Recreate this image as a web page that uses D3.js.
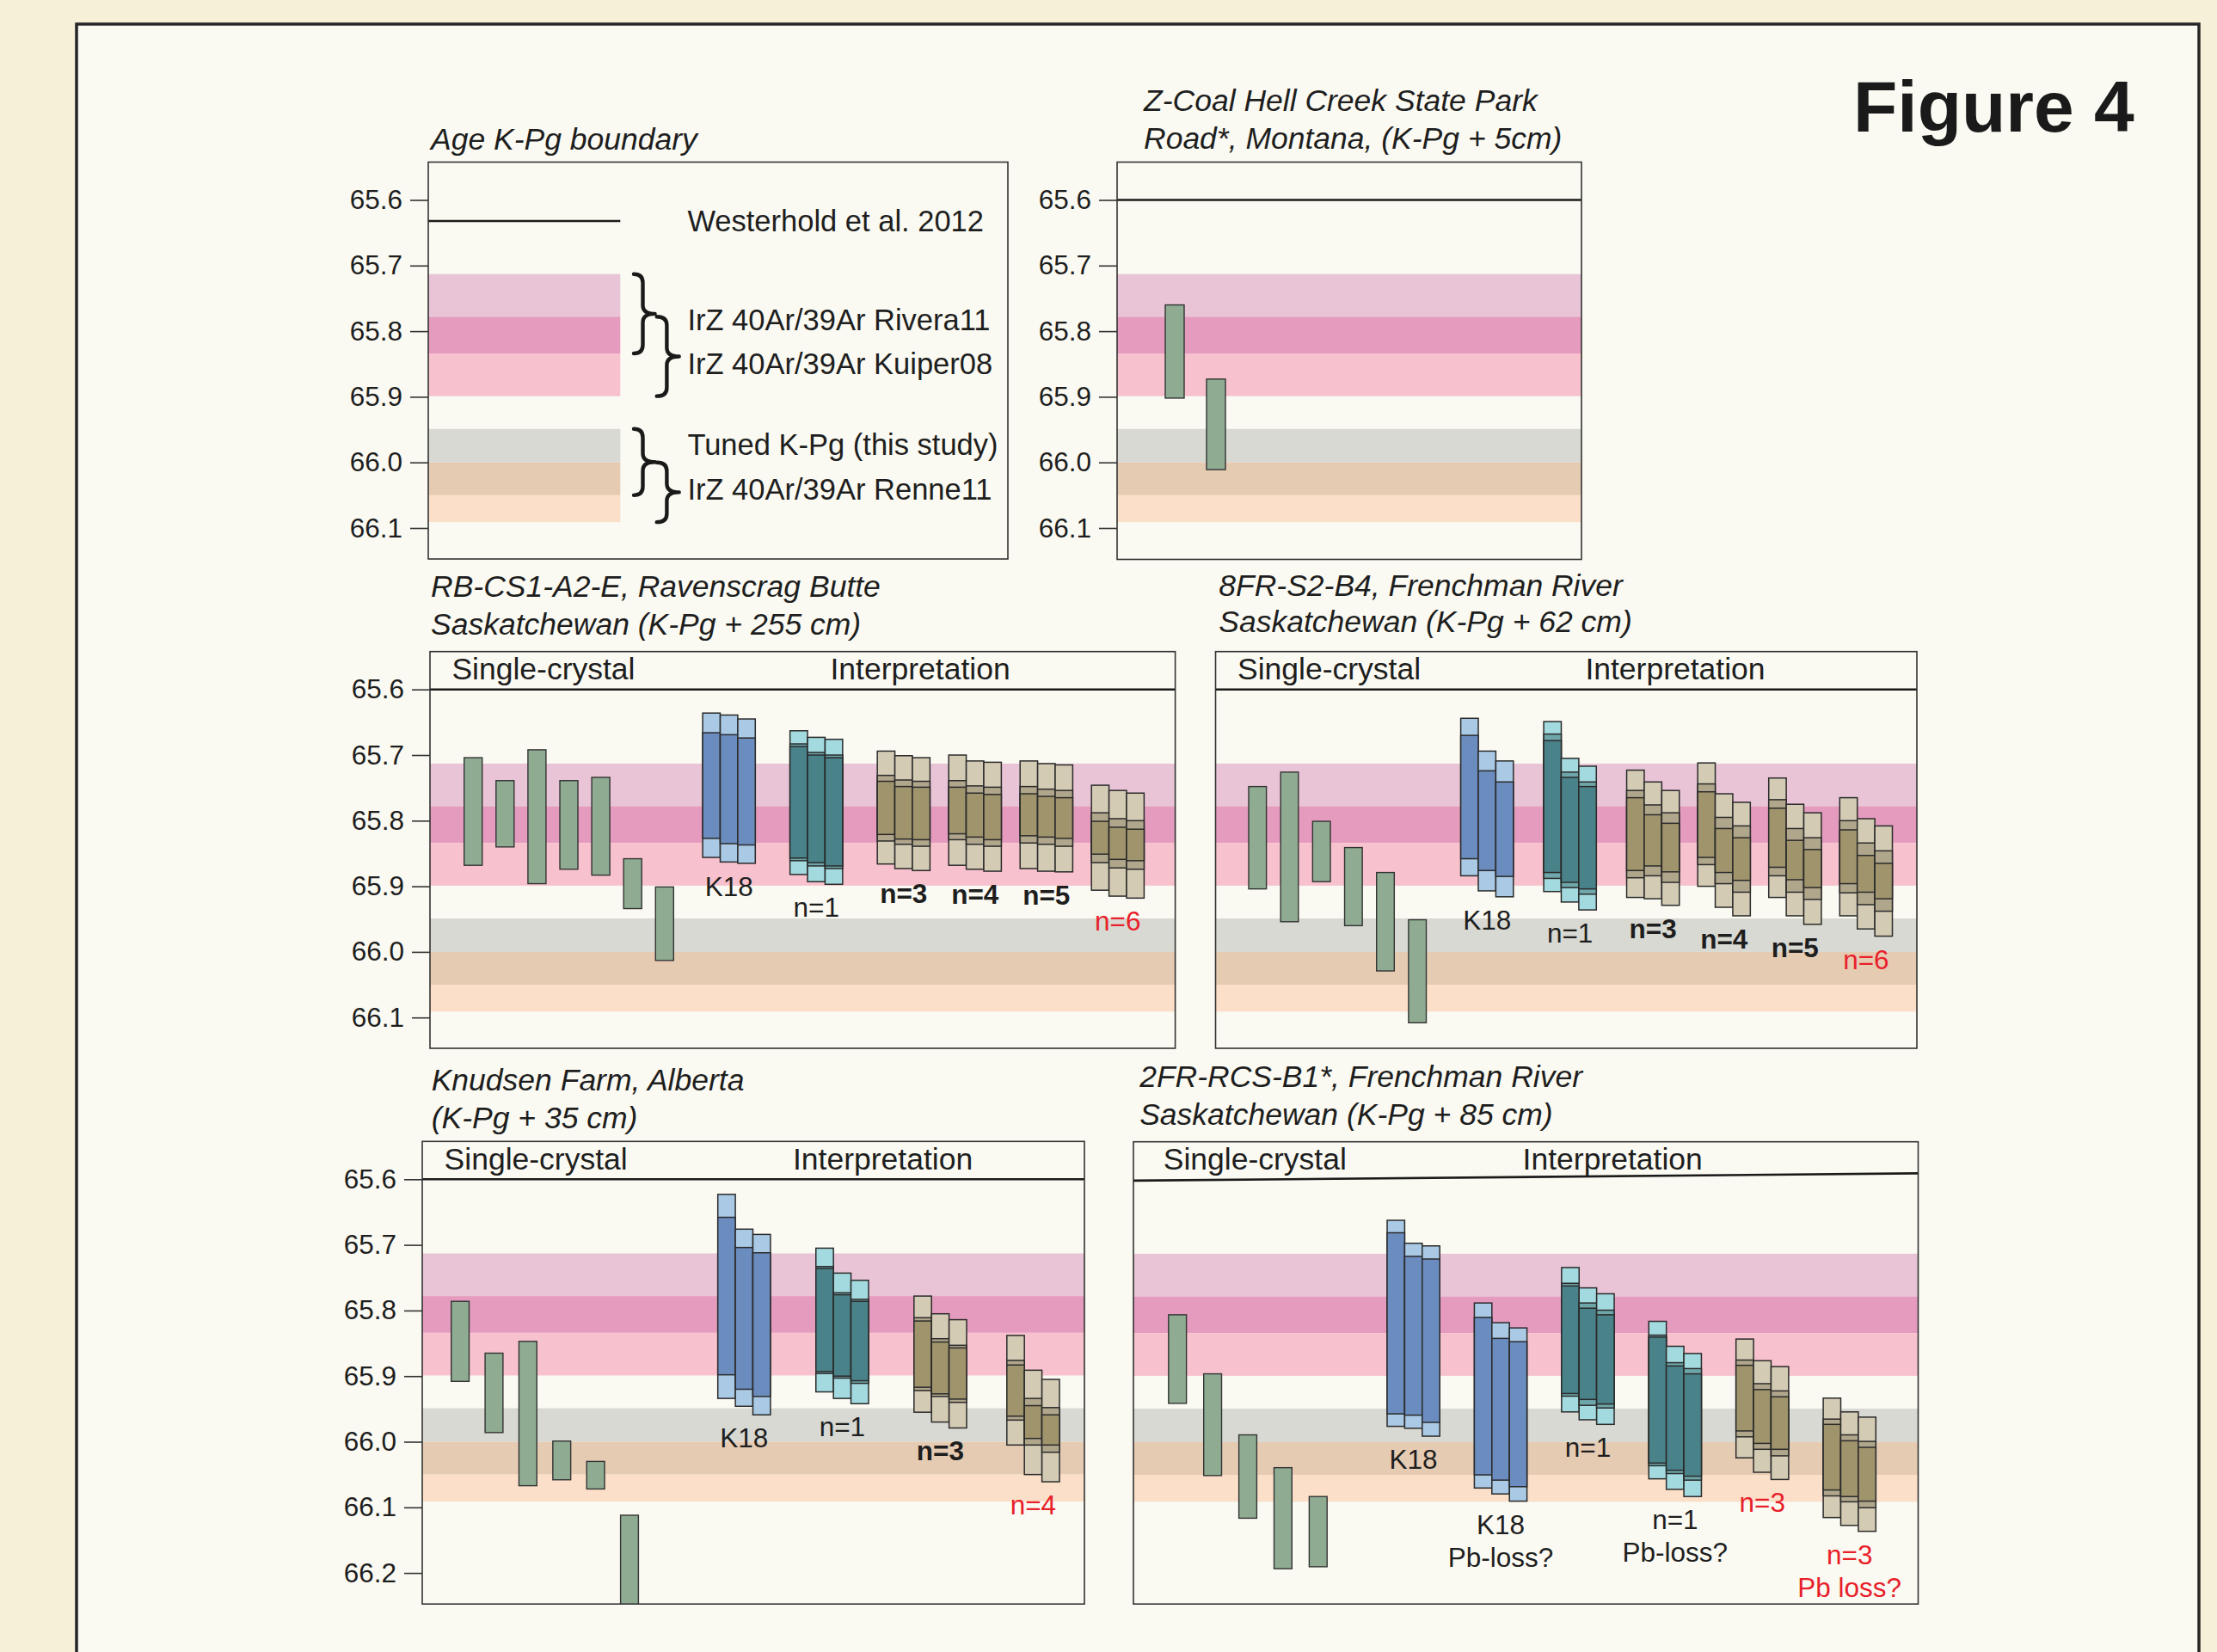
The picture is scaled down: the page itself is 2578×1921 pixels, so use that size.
<!DOCTYPE html>
<html>
<head>
<meta charset="utf-8">
<script src="https://cdn.jsdelivr.net/npm/d3@7"></script>
<style>
  html, body { margin: 0; padding: 0; background: #f7f0d8; }
  svg { display: block; font-family: "Liberation Sans", Arial, sans-serif; }
</style>
</head>
<body>
<svg id="fig" width="2578" height="1921"></svg>
<script>
// ---- data (ages in Ma, young at top) ----
const TICKS_STD = [65.6, 65.7, 65.8, 65.9, 66.0, 66.1];
const TICKS_EXT = [65.6, 65.7, 65.8, 65.9, 66.0, 66.1, 66.2];

const westerhold = { name: 'Westerhold et al. 2012', age: 65.632 };

// two overlapping pairs of reference bands
const ageBands = [
  { name: 'IrZ 40Ar/39Ar Rivera11', lo: 65.713, hi: 65.834 },
  { name: 'IrZ 40Ar/39Ar Kuiper08', lo: 65.778, hi: 65.899 },
  { name: 'Tuned K-Pg (this study)', lo: 65.949, hi: 66.050 },
  { name: 'IrZ 40Ar/39Ar Renne11', lo: 66.000, hi: 66.091 }
];

// single-crystal dates [young, old]
const zcoalCrystals = [[65.760, 65.902], [65.873, 66.011]];
const ravenscragCrystals = [[65.704, 65.868], [65.739, 65.840], [65.692, 65.896], [65.739, 65.874],
  [65.734, 65.883], [65.858, 65.934], [65.901, 66.013]];
const frenchman8Crystals = [[65.748, 65.904], [65.726, 65.954], [65.801, 65.893], [65.841, 65.960],
  [65.879, 66.029], [65.951, 66.108]];
const knudsenCrystals = [[65.786, 65.908], [65.865, 65.986], [65.847, 66.067], [65.999, 66.058],
  [66.030, 66.072], [66.112, 66.260]];
const frenchman2Crystals = [[65.806, 65.941], [65.896, 66.051], [65.989, 66.116], [66.039, 66.193],
  [66.083, 66.190]];

// interpretations: each has 3 bars; k18 bars = [outer, inner, inner, outer],
// other bars = [outer, mid, inner, inner, mid, outer]
const ravenscragGroups = [
  { kind: 'k18', label: ['K18'], status: 'ref', bars: [
    [65.636, 65.666, 65.827, 65.856], [65.639, 65.669, 65.835, 65.863], [65.645, 65.674, 65.837, 65.865]] },
  { kind: 'n1', label: ['n=1'], status: 'ref', bars: [
    [65.663, 65.683, 65.687, 65.857, 65.861, 65.882], [65.673, 65.696, 65.700, 65.864, 65.869, 65.893],
    [65.676, 65.700, 65.704, 65.869, 65.873, 65.897]] },
  { kind: 'nx', label: ['n=3'], status: 'candidate', bars: [
    [65.694, 65.731, 65.740, 65.821, 65.831, 65.866], [65.701, 65.738, 65.748, 65.828, 65.836, 65.873],
    [65.704, 65.740, 65.749, 65.829, 65.839, 65.876]] },
  { kind: 'nx', label: ['n=4'], status: 'candidate', bars: [
    [65.700, 65.739, 65.749, 65.820, 65.829, 65.868], [65.709, 65.747, 65.758, 65.825, 65.836, 65.874],
    [65.711, 65.749, 65.760, 65.829, 65.839, 65.877]] },
  { kind: 'nx', label: ['n=5'], status: 'candidate', bars: [
    [65.709, 65.748, 65.759, 65.823, 65.834, 65.873], [65.713, 65.752, 65.763, 65.825, 65.836, 65.877],
    [65.715, 65.754, 65.765, 65.827, 65.839, 65.878]] },
  { kind: 'nx', label: ['n=6'], status: 'preferred', bars: [
    [65.746, 65.788, 65.801, 65.851, 65.864, 65.906], [65.754, 65.797, 65.810, 65.859, 65.872, 65.915],
    [65.758, 65.800, 65.813, 65.861, 65.874, 65.918]] }
];

const frenchman8Groups = [
  { kind: 'k18', label: ['K18'], status: 'ref', bars: [
    [65.644, 65.670, 65.858, 65.884], [65.694, 65.724, 65.876, 65.907], [65.709, 65.741, 65.885, 65.916]] },
  { kind: 'n1', label: ['n=1'], status: 'ref', bars: [
    [65.649, 65.668, 65.678, 65.879, 65.888, 65.908], [65.705, 65.726, 65.734, 65.894, 65.902, 65.924],
    [65.717, 65.741, 65.748, 65.904, 65.912, 65.936]] },
  { kind: 'nx', label: ['n=3'], status: 'candidate', bars: [
    [65.723, 65.754, 65.765, 65.876, 65.887, 65.917], [65.741, 65.776, 65.791, 65.869, 65.884, 65.919],
    [65.754, 65.788, 65.804, 65.878, 65.894, 65.929]] },
  { kind: 'nx', label: ['n=4'], status: 'candidate', bars: [
    [65.712, 65.744, 65.756, 65.856, 65.867, 65.900], [65.759, 65.795, 65.812, 65.879, 65.896, 65.932],
    [65.772, 65.808, 65.826, 65.891, 65.909, 65.945]] },
  { kind: 'nx', label: ['n=5'], status: 'candidate', bars: [
    [65.735, 65.768, 65.781, 65.871, 65.884, 65.917], [65.775, 65.812, 65.830, 65.890, 65.909, 65.945],
    [65.788, 65.826, 65.844, 65.902, 65.920, 65.958]] },
  { kind: 'nx', label: ['n=6'], status: 'preferred', bars: [
    [65.765, 65.800, 65.814, 65.896, 65.910, 65.945], [65.797, 65.834, 65.853, 65.909, 65.928, 65.965],
    [65.808, 65.846, 65.865, 65.919, 65.938, 65.976]] }
];

const knudsenGroups = [
  { kind: 'k18', label: ['K18'], status: 'ref', bars: [
    [65.623, 65.658, 65.898, 65.934], [65.676, 65.704, 65.920, 65.946], [65.684, 65.712, 65.931, 65.959]] },
  { kind: 'n1', label: ['n=1'], status: 'ref', bars: [
    [65.705, 65.733, 65.736, 65.893, 65.896, 65.924], [65.743, 65.773, 65.776, 65.900, 65.903, 65.934],
    [65.754, 65.783, 65.786, 65.907, 65.911, 65.942]] },
  { kind: 'nx', label: ['n=3'], status: 'candidate', bars: [
    [65.778, 65.811, 65.816, 65.917, 65.922, 65.955], [65.805, 65.843, 65.848, 65.927, 65.931, 65.970],
    [65.814, 65.853, 65.857, 65.935, 65.940, 65.979]] },
  { kind: 'nx', label: ['n=4'], status: 'preferred', bars: [
    [65.838, 65.876, 65.883, 65.961, 65.967, 66.005], [65.891, 65.934, 65.945, 65.995, 66.005, 66.050],
    [65.905, 65.948, 65.959, 66.005, 66.016, 66.061]] }
];

const frenchman2Groups = [
  { kind: 'k18', label: ['K18'], status: 'ref', bars: [
    [65.662, 65.681, 65.957, 65.976], [65.697, 65.717, 65.959, 65.979], [65.701, 65.721, 65.970, 65.991]] },
  { kind: 'k18', label: ['K18', 'Pb-loss?'], status: 'ref', bars: [
    [65.788, 65.810, 66.050, 66.070], [65.818, 65.842, 66.058, 66.079], [65.826, 65.847, 66.068, 66.090]] },
  { kind: 'n1', label: ['n=1'], status: 'ref', bars: [
    [65.734, 65.758, 65.762, 65.926, 65.930, 65.954], [65.765, 65.788, 65.796, 65.935, 65.944, 65.966],
    [65.774, 65.799, 65.806, 65.942, 65.948, 65.973]] },
  { kind: 'n1', label: ['n=1', 'Pb-loss?'], status: 'ref', bars: [
    [65.816, 65.837, 65.840, 66.032, 66.036, 66.056], [65.854, 65.879, 65.884, 66.043, 66.048, 66.072],
    [65.865, 65.888, 65.896, 66.052, 66.058, 66.083]] },
  { kind: 'nx', label: ['n=3'], status: 'preferred', bars: [
    [65.843, 65.875, 65.883, 65.983, 65.992, 66.024], [65.876, 65.911, 65.920, 66.002, 66.011, 66.046],
    [65.885, 65.922, 65.931, 66.011, 66.021, 66.057]] },
  { kind: 'nx', label: ['n=3', 'Pb loss?'], status: 'preferred', bars: [
    [65.933, 65.965, 65.973, 66.073, 66.082, 66.115], [65.954, 65.989, 65.998, 66.083, 66.091, 66.127],
    [65.962, 65.999, 66.008, 66.090, 66.100, 66.136]] }
];

// ---- styles ----
const INK = '#1e1e1e';
const RED = '#e8202a';
const BAND_COLORS = [['#e8c4d6', '#e49bbe', '#f7c1cd'], ['#d8d9d2', '#e6cbb3', '#fbdfc8']];
const CRYSTAL_FILL = '#8fac93';
const BAR_FILLS = {
  k18: ['#a9c9e4', '#6b8cbe'],
  n1: ['#a3dadf', '#6ea6aa', '#4a828a'],
  nx: ['#d4cbb5', '#b0a68b', '#a0946d']
};
const STATUS_STYLE = {
  ref: { weight: 'normal', color: INK },
  candidate: { weight: 'bold', color: INK },
  preferred: { weight: 'normal', color: RED }
};

// ---- layout ----
const panels = [
  { id: 'age', box: [498, 188.5, 1172, 650], ticks: TICKS_STD,
    title: { x: 501, y: [174], lines: ['Age K-Pg boundary'] } },
  { id: 'zcoal', box: [1299, 188.5, 1839, 650.5], ticks: TICKS_STD, headLine: true,
    crystals: zcoalCrystals, crystalX: [1355, 1403], crystalW: 22,
    title: { x: 1330, y: [129, 172.5], lines: ['Z-Coal Hell Creek State Park', 'Road*, Montana, (K-Pg + 5cm)'] } },
  { id: 'raven', box: [500, 757.7, 1366.6, 1219], ticks: TICKS_STD, headLine: true,
    crystals: ravenscragCrystals, crystalX: [539.7, 762.3], crystalW: 21,
    groups: ravenscragGroups, groupX: [817.1, 1330.4], wide: 1.85, headX: [525.4, 965.5],
    title: { x: 501, y: [694.4, 737.7], lines: ['RB-CS1-A2-E, Ravenscrag Butte', 'Saskatchewan (K-Pg + 255 cm)'] } },
  { id: 'fr8', box: [1413.5, 757.7, 2229, 1219], ticks: null, headLine: true,
    crystals: frenchman8Crystals, crystalX: [1452, 1637.9], crystalW: 20.6,
    groups: frenchman8Groups, groupX: [1698.6, 2200.5], wide: 1.65, headX: [1439, 1843.4],
    title: { x: 1417.3, y: [692.5, 735], lines: ['8FR-S2-B4, Frenchman River', 'Saskatchewan (K-Pg + 62 cm)'] } },
  { id: 'knud', box: [491, 1327.3, 1261, 1865.2], ticks: TICKS_EXT, headLine: true,
    crystals: knudsenCrystals, crystalX: [524.7, 721.6], crystalW: 20.8,
    groups: knudsenGroups, groupX: [834.7, 1232], wide: 1.13, headX: [516.6, 922],
    title: { x: 501.7, y: [1268.4, 1311.7], lines: ['Knudsen Farm, Alberta', '(K-Pg + 35 cm)'] } },
  { id: 'fr2', box: [1318, 1327.7, 2230.5, 1865.2], ticks: null, headLine: true, headTilt: -8.5,
    crystals: frenchman2Crystals, crystalX: [1358.8, 1522.4], crystalW: 20.8,
    groups: frenchman2Groups, groupX: [1613, 2181.3], wide: 1.0, headX: [1352.8, 1770.6],
    title: { x: 1325.2, y: [1264.2, 1307.5], lines: ['2FR-RCS-B1*, Frenchman River', 'Saskatchewan (K-Pg + 85 cm)'] } }
];

const GROUP_W = 61.2;
const svg = d3.select('#fig');

// page background + frame
svg.append('rect').attr('width', 2578).attr('height', 1921).attr('fill', '#f7f0d8');
svg.append('rect').attr('x', 89).attr('y', 28).attr('width', 2468).attr('height', 1930)
  .attr('fill', '#fafaf2').attr('stroke', '#262626').attr('stroke-width', 3.5);

svg.append('text').attr('x', 2155).attr('y', 153).attr('font-size', 84).attr('font-weight', 'bold')
  .attr('fill', '#1a1a1a').text('Figure 4');

function bandSegments() {
  const segs = [];
  [[ageBands[0], ageBands[1]], [ageBands[2], ageBands[3]]].forEach(([a, b], k) => {
    const c = BAND_COLORS[k];
    segs.push({ lo: a.lo, hi: b.lo, fill: c[0] });
    segs.push({ lo: b.lo, hi: a.hi, fill: c[1] });
    segs.push({ lo: a.hi, hi: b.hi, fill: c[2] });
  });
  return segs;
}

function bracePath(x, y0, y1, stem, tip) {
  const m = (y0 + y1) / 2, r = 10, s = x + stem;
  return `M${x},${y0} Q${s},${y0} ${s},${y0 + r} L${s},${m - r} Q${s},${m} ${x + tip},${m}` +
    ` Q${s},${m} ${s},${m + r} L${s},${y1 - r} Q${s},${y1} ${x},${y1}`;
}

function groupLefts(groups, x0, x1, wide) {
  const weights = groups.slice(1).map((g, i) => groups[i].kind === 'nx' ? 1 : wide);
  const unit = (x1 - x0 - groups.length * GROUP_W) / d3.sum(weights);
  const out = [x0];
  let x = x0;
  weights.forEach(w => { x += GROUP_W + w * unit; out.push(x); });
  return out;
}

panels.forEach(p => {
  const [x0, y0, x1, y1] = p.box;
  const y = d3.scaleLinear().domain([65.6, 66.1]).range([y0 + 44, y0 + 44 + 381.5]);
  const g = svg.append('g');
  const clipId = 'clip-' + p.id;
  g.append('clipPath').attr('id', clipId).append('rect')
    .attr('x', x0).attr('y', y0).attr('width', x1 - x0).attr('height', y1 - y0);
  const inner = g.append('g').attr('clip-path', `url(#${clipId})`);

  // reference bands
  const bandX1 = p.id === 'age' ? 721.3 : x1;
  inner.selectAll('rect.band').data(bandSegments()).join('rect').attr('class', 'band')
    .attr('x', x0).attr('width', bandX1 - x0)
    .attr('y', d => y(d.lo)).attr('height', d => y(d.hi) - y(d.lo))
    .attr('fill', d => d.fill);

  if (p.id === 'age') {
    inner.append('line').attr('x1', x0).attr('x2', bandX1)
      .attr('y1', y(westerhold.age)).attr('y2', y(westerhold.age))
      .attr('stroke', '#1a1a1a').attr('stroke-width', 2.5);
    g.append('text').attr('x', 799.4).attr('y', y(westerhold.age) + 12)
      .attr('font-size', 34.5).attr('fill', INK).text(westerhold.name);
    const braceX = [[737, 10.5, 24.6], [763.7, 11.7, 26]];
    const legendDy = [19, 20.5, -8.6, 8.6];
    ageBands.forEach((b, i) => {
      const [bx, stem, tip] = braceX[i % 2];
      g.append('path').attr('d', bracePath(bx, y(b.lo), y(b.hi), stem, tip))
        .attr('fill', 'none').attr('stroke', '#1a1a1a').attr('stroke-width', 4.4)
        .attr('stroke-linecap', 'round').attr('stroke-linejoin', 'round');
      g.append('text').attr('x', 799.4).attr('y', y((b.lo + b.hi) / 2) + legendDy[i])
        .attr('font-size', 34.5).attr('fill', INK).text(b.name);
    });
  }

  // single crystals
  if (p.crystals) {
    const cx = d3.scaleLinear().domain([0, p.crystals.length - 1]).range(p.crystalX);
    inner.selectAll('rect.crystal').data(p.crystals).join('rect').attr('class', 'crystal')
      .attr('x', (d, i) => cx(i)).attr('width', p.crystalW)
      .attr('y', d => y(d[0])).attr('height', d => y(d[1]) - y(d[0]))
      .attr('fill', CRYSTAL_FILL).attr('stroke', '#333').attr('stroke-width', 1.4);
  }

  // interpretation groups
  if (p.groups) {
    const lefts = groupLefts(p.groups, p.groupX[0], p.groupX[1], p.wide);
    p.groups.forEach((grp, gi) => {
      const bx = d3.scaleBand().domain(d3.range(grp.bars.length)).range([lefts[gi], lefts[gi] + GROUP_W]);
      const fills = BAR_FILLS[grp.kind];
      grp.bars.forEach((v, bi) => {
        const n = v.length;
        const layers = n === 4 ? [[v[0], v[3]], [v[1], v[2]]] : [[v[0], v[5]], [v[1], v[4]], [v[2], v[3]]];
        layers.forEach((l, li) => {
          inner.append('rect').attr('x', bx(bi)).attr('width', bx.bandwidth())
            .attr('y', y(l[0])).attr('height', y(l[1]) - y(l[0]))
            .attr('fill', fills[li]).attr('stroke', '#2b2b2b').attr('stroke-width', 1.5);
        });
      });
      const bottom = d3.max(grp.bars, v => v[v.length - 1]);
      const st = STATUS_STYLE[grp.status];
      grp.label.forEach((t, li) => {
        g.append('text').attr('x', lefts[gi] + GROUP_W / 2).attr('y', y(bottom) + 38 + li * 38)
          .attr('text-anchor', 'middle').attr('font-size', 31.5)
          .attr('font-weight', st.weight).attr('fill', st.color).text(t);
      });
    });
  }

  // header line and labels
  if (p.headLine) {
    const tilt = p.headTilt || 0;
    g.append('line').attr('x1', x0).attr('x2', x1)
      .attr('y1', y(65.6) + (tilt ? 1.2 : 0)).attr('y2', y(65.6) + (tilt ? 1.2 + tilt : 0))
      .attr('stroke', '#1a1a1a').attr('stroke-width', 2.6);
  }
  if (p.headX) {
    ['Single-crystal', 'Interpretation'].forEach((t, i) => {
      g.append('text').attr('x', p.headX[i]).attr('y', y(65.6) - 11.5)
        .attr('font-size', 35.5).attr('fill', INK).text(t);
    });
  }

  // frame
  g.append('rect').attr('x', x0).attr('y', y0).attr('width', x1 - x0).attr('height', y1 - y0)
    .attr('fill', 'none').attr('stroke', '#333').attr('stroke-width', 1.6);

  // axis
  if (p.ticks) {
    const ax = g.append('g').attr('transform', `translate(${x0},0)`)
      .call(d3.axisLeft(y).tickValues(p.ticks).tickFormat(d3.format('.1f')).tickSize(21).tickPadding(9));
    ax.select('.domain').remove();
    ax.selectAll('line').attr('stroke', '#333').attr('stroke-width', 1.6);
    ax.selectAll('text').attr('font-size', 31.5).attr('fill', INK)
      .attr('font-family', '"Liberation Sans", Arial, sans-serif');
  }

  // title
  p.title.lines.forEach((t, i) => {
    g.append('text').attr('x', p.title.x).attr('y', p.title.y[i])
      .attr('font-size', 35.5).attr('font-style', 'italic').attr('fill', INK).text(t);
  });
});
</script>
</body>
</html>
